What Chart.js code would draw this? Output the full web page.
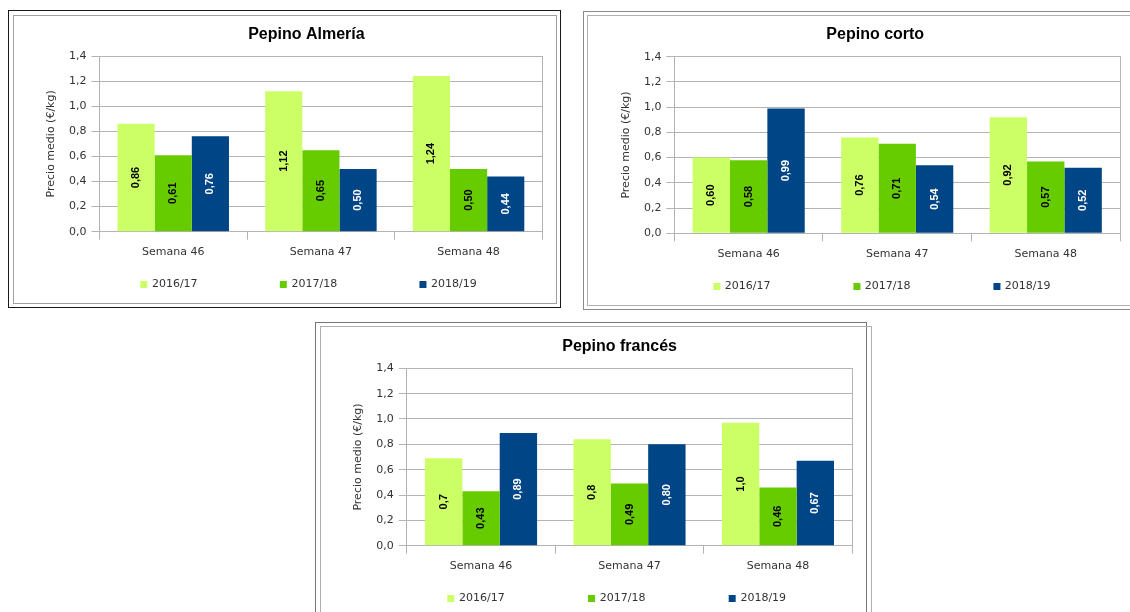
<!DOCTYPE html>
<html><head><meta charset="utf-8">
<script src="https://cdn.jsdelivr.net/npm/chart.js@4.4.1/dist/chart.umd.min.js"></script>
<style>
html,body{margin:0;padding:0;background:#fff;overflow:hidden;width:1130px;height:612px;position:relative}
.r{position:absolute;box-sizing:border-box;border:1px solid #999}
canvas{position:absolute}
</style></head><body>
<script>
// ---------- data ----------
const categories = ['Semana 46', 'Semana 47', 'Semana 48'];
const seasons = ['2016/17', '2017/18', '2018/19'];
const yMin = 0, yMax = 1.4, yStep = 0.2;
const yAxisTitle = 'Precio medio (€/kg)';

const titleAlmeria = 'Pepino Almería';
const almeria1617 = [0.86, 1.12, 1.24];
const almeria1718 = [0.61, 0.65, 0.50];
const almeria1819 = [0.76, 0.50, 0.44];
const almeriaDecimals = [2, 2, 2];

const titleCorto = 'Pepino corto';
const corto1617 = [0.60, 0.76, 0.92];
const corto1718 = [0.58, 0.71, 0.57];
const corto1819 = [0.99, 0.54, 0.52];
const cortoDecimals = [2, 2, 2];

const titleFrances = 'Pepino francés';
const frances1617 = [0.69, 0.84, 0.97];
const frances1718 = [0.43, 0.49, 0.46];
const frances1819 = [0.89, 0.80, 0.67];
const francesDecimals = [1, 2, 2];

// ---------- style ----------
const barColors = ['#ccff66', '#66cc00', '#004586'];
const labelColors = ['#000000', '#000000', '#ffffff'];
const GRID = '#b3b3b3', TXT = '#333333';
Chart.defaults.font.family = 'DejaVu Sans';
Chart.defaults.font.size = 11;
Chart.defaults.color = TXT;

const charts = [
  {title: titleAlmeria, series: [almeria1617, almeria1718, almeria1819], decimals: almeriaDecimals},
  {title: titleCorto, series: [corto1617, corto1718, corto1819], decimals: cortoDecimals},
  {title: titleFrances, series: [frances1617, frances1718, frances1819], decimals: francesDecimals}
];

const frames = [
  {frame: [[8,10,553,298,'#1a1a1a'],[13,15,544,289,'#a0a0a0']], cx:14, cy:16, ch:287,
   titleC:292.4, titleMid:18.5, top:40, base:215.7, axisX:85.4, plotR:528.4, yTitleX:37.5,
   legendY:268.5, sq0:126.5, sp:139.6},
  {frame: [[583,11,560,299,'#8a8a8a'],[587,15,560,291,'#b0b0b0']], cx:588, cy:16, ch:289,
   titleC:283.5, titleMid:18.8, top:40.7, base:217.3, axisX:86.4, plotR:532, yTitleX:37.7,
   legendY:270.5, sq0:128.6, sp:140, leftPad:42.5},
  {frame: [[315,322,552,300,'#777777'],[320,326,552,300,'#b0b0b0']], cx:321, cy:327, ch:290,
   titleC:298.6, titleMid:19.7, top:41.3, base:218.7, axisX:85.8, plotR:531.2, yTitleX:37,
   legendY:271.5, sq0:126.6, sp:140.7}
];

const barLabelsPlugin = {
  id: 'barLabels',
  afterDatasetsDraw(chart, args, opts) {
    const ctx = chart.ctx;
    chart.data.datasets.forEach((ds, di) => {
      const meta = chart.getDatasetMeta(di);
      meta.data.forEach((bar, i) => {
        const v = ds.data[i];
        ctx.save();
        ctx.translate(bar.x, (bar.y + bar.base) / 2);
        ctx.rotate(-Math.PI / 2);
        ctx.font = 'bold 11px "Liberation Sans"';
        ctx.fillStyle = opts.colors[di];
        ctx.textAlign = 'center';
        ctx.textBaseline = 'middle';
        ctx.fillText(v.toFixed(opts.decimals[di]).replace('.', ','), 0, 0);
        ctx.restore();
      });
    });
  }
};

const mc = document.createElement('canvas').getContext('2d');
mc.font = '11px "DejaVu Sans"';
const textW = mc.measureText(seasons[0]).width;
const GAP = 11.4, HALF = 5.5, SQ = 7;

frames.forEach((f, k) => {
  const cfg = charts[k];
  f.frame.forEach(([l, t, w, h, c]) => {
    const d = document.createElement('div');
    d.className = 'r';
    Object.assign(d.style, {left: l + 'px', top: t + 'px', width: w + 'px', height: h + 'px', borderColor: c});
    document.body.appendChild(d);
  });
  const text0 = f.sq0 + GAP;
  const P = 10;
  const B = f.sp - HALF - textW - P;
  let L = text0 - HALF - B - P;
  if (f.leftPad !== undefined) L = f.leftPad;
  const R = Math.max(2 * f.titleC - L, f.plotR);
  const delta = B + HALF - GAP;
  const cw = Math.ceil(R + 2);
  const imgs = barColors.map(col => {
    const Wi = Math.ceil(B + 2 * (Math.abs(delta) + 10));
    const c = document.createElement('canvas');
    c.width = Wi; c.height = SQ;
    const g = c.getContext('2d');
    g.fillStyle = col;
    g.fillRect(Math.round(delta + Wi / 2 - B / 2), 0, SQ, SQ);
    return c;
  });
  const T1 = f.titleMid - 9.6;
  const T2 = f.top - T1 - 19.2;
  const xh = f.legendY - HALF - P - f.base;

  const cv = document.createElement('canvas');
  cv.width = cw; cv.height = f.ch;
  Object.assign(cv.style, {left: f.cx + 'px', top: f.cy + 'px', width: cw + 'px', height: f.ch + 'px'});
  document.body.appendChild(cv);

  new Chart(cv, {
    type: 'bar',
    data: {
      labels: categories,
      datasets: seasons.map((s, i) => ({
        label: s, data: cfg.series[i], backgroundColor: barColors[i], borderWidth: 0,
        categoryPercentage: 0.755, barPercentage: 1
      }))
    },
    options: {
      responsive: false, animation: false,
      layout: {padding: {left: L, right: cw - R, top: 0, bottom: f.ch - f.legendY - 15.5}},
      plugins: {
        title: {display: true, text: cfg.title, color: '#000',
          font: {family: 'Liberation Sans', size: 16, weight: 'bold'}, padding: {top: T1, bottom: T2}},
        legend: {position: 'bottom', align: 'start',
          labels: {usePointStyle: true, pointStyleWidth: B, padding: P, color: TXT,
            font: {family: 'DejaVu Sans', size: 11},
            generateLabels: ch => Chart.defaults.plugins.legend.labels.generateLabels(ch)
              .map((it, i) => Object.assign(it, {pointStyle: imgs[i]}))}},
        tooltip: {enabled: false},
        barLabels: {colors: labelColors, decimals: cfg.decimals}
      },
      scales: {
        x: {offset: true,
          grid: {display: true, drawOnChartArea: false, offset: true, tickLength: 8, color: GRID},
          border: {display: true, color: GRID},
          ticks: {padding: 6, color: TXT, maxRotation: 0, font: {family: 'DejaVu Sans', size: 11}},
          afterFit: s => { s.height = xh; }},
        y: {min: yMin, max: yMax,
          ticks: {stepSize: yStep, padding: 5, color: TXT, font: {family: 'DejaVu Sans', size: 11},
            callback: v => Number(v).toFixed(1).replace('.', ',')},
          grid: {color: GRID, tickLength: 8},
          border: {display: true, color: GRID},
          title: {display: true, text: yAxisTitle, color: TXT, font: {family: 'DejaVu Sans', size: 11},
            padding: {top: f.yTitleX - 6.6 - L, bottom: 0}},
          afterFit: s => { s.width = f.axisX - L; }},
        y2: {position: 'right', min: yMin, max: yMax,
          grid: {display: false}, ticks: {display: false},
          border: {display: true, color: GRID},
          afterFit: s => { s.width = R - f.plotR; }}
      }
    },
    plugins: [barLabelsPlugin]
  });
});
</script>
</body></html>
